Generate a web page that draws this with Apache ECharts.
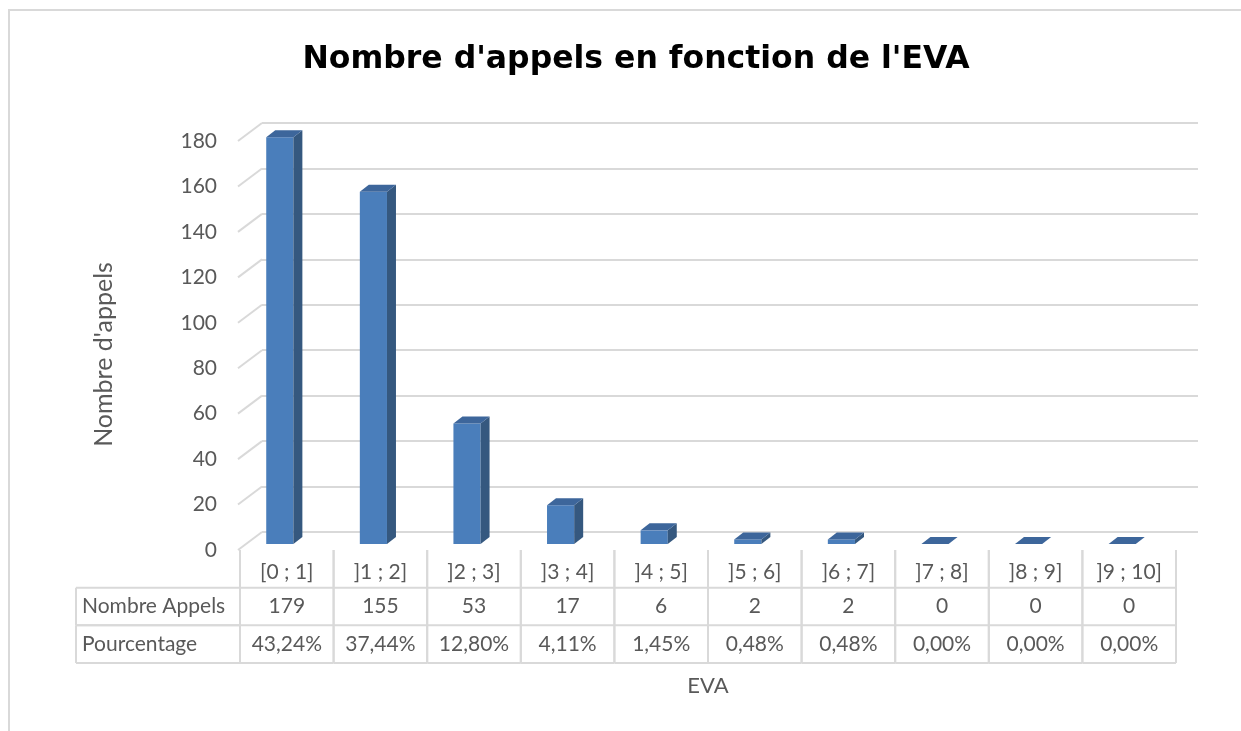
<!DOCTYPE html>
<html>
<head>
<meta charset="utf-8">
<script src="https://cdn.jsdelivr.net/npm/echarts@6/dist/echarts.min.js"></script>
<style>
  html, body { margin: 0; padding: 0; background: #fff; }
  #chart { width: 1241px; height: 731px; }
</style>
</head>
<body>
<div id="chart"></div>
<script>
// donnees
var categories = ['[0 ; 1]', ']1 ; 2]', ']2 ; 3]', ']3 ; 4]', ']4 ; 5]', ']5 ; 6]', ']6 ; 7]', ']7 ; 8]', ']8 ; 9]', ']9 ; 10]'];
var appels = [179, 155, 53, 17, 6, 2, 2, 0, 0, 0];
var pourcentages = ['43,24%', '37,44%', '12,80%', '4,11%', '1,45%', '0,48%', '0,48%', '0,00%', '0,00%', '0,00%'];
var rowNames = ['Nombre Appels', 'Pourcentage'];
var yTicks = [0, 20, 40, 60, 80, 100, 120, 140, 160, 180];

var FONT = 'Lato';
var TXT = '#595959';
var LINE = '#d9d9d9';
var FRONT = '#4a7ebb', SIDE = '#35587f', TOP = '#3d669b';

var chart = echarts.init(document.getElementById('chart'));

// barres 3D
function renderBar(params, api) {
    var i = api.value(0), v = api.value(1);
    var top = api.coord([i, v]);
    var base = api.coord([i, 0]);
    var w = api.size([1, 0])[0] * 0.29;
    var dx = 9, dy = -7;
    var x0 = top[0] - w / 2, x1 = top[0] + w / 2;
    var ch = [];
    if (base[1] - top[1] > 0.5) {
        ch.push({type: 'rect', shape: {x: x0, y: top[1], width: w, height: base[1] - top[1]}, style: {fill: FRONT}});
        ch.push({type: 'polygon', shape: {points: [[x1, top[1]], [x1 + dx, top[1] + dy], [x1 + dx, base[1] + dy], [x1, base[1]]]}, style: {fill: SIDE}});
    }
    ch.push({type: 'polygon', shape: {points: [[x0, top[1]], [x0 + dx, top[1] + dy], [x1 + dx, top[1] + dy], [x1, top[1]]]}, style: {fill: TOP}});
    return {type: 'group', children: ch};
}

// lignes du mur lateral
function renderSide(params, api) {
    var p = api.coord([0, api.value(0)]);
    return {type: 'line', shape: {x1: p[0], y1: p[1], x2: p[0] - 24, y2: p[1] + 18}, style: {stroke: LINE, lineWidth: 2}};
}

function txt(x, y, s, align) {
    return {type: 'text', style: {x: x, y: y, text: s, fill: TXT, font: '21px ' + FONT, align: align || 'center', verticalAlign: 'middle'}};
}
function ln(x1, y1, x2, y2) {
    return {type: 'line', shape: {x1: x1, y1: y1, x2: x2, y2: y2}, style: {stroke: LINE, lineWidth: 2}};
}

// tableau de donnees
function renderCell(params, api) {
    var i = api.value(0);
    var c = api.coord([i, 0]);
    var w = api.size([1, 0])[0];
    var l = c[0] - w / 2, r = c[0] + w / 2;
    var y = function (k) { return api.coord([i, k])[1]; };
    return {type: 'group', children: [
        ln(l, y(0), l, y(3)), ln(r, y(0), r, y(3)),
        ln(l, y(1), r, y(1)), ln(l, y(2), r, y(2)), ln(l, y(3), r, y(3)),
        txt(c[0], y(0.6), categories[i]),
        txt(c[0], y(1.5), String(appels[i])),
        txt(c[0], y(2.5), pourcentages[i])
    ]};
}
function renderHead(params, api) {
    var k = api.value(1);
    var c = api.coord([0, k]);
    var w = api.size([1, 0])[0];
    var l = c[0] - w / 2, r = c[0] + w / 2;
    var y0 = api.coord([0, k - 0.5])[1], y1 = api.coord([0, k + 0.5])[1];
    return {type: 'group', children: [
        ln(l, y0, l, y1), ln(l, y0, r, y0), ln(l, y1, r, y1),
        txt(l + 6, c[1], rowNames[k - 1.5], 'left')
    ]};
}

var option = {
    animation: false,
    backgroundColor: '#fff',
    title: {
        text: "Nombre d'appels en fonction de l'EVA",
        left: 631, top: 39, textAlign: 'center',
        textStyle: {fontFamily: 'DejaVu Sans', fontWeight: 'bold', fontSize: 31.5, color: '#000'}
    },
    graphic: [
        {type: 'rect', shape: {x: 9, y: 10, width: 1300, height: 800}, style: {fill: 'none', stroke: LINE, lineWidth: 2}, silent: true},
        {type: 'text', style: {x: 708, y: 686, text: 'EVA', fill: TXT, font: '22px ' + FONT, align: 'center', verticalAlign: 'middle'}, silent: true}
    ],
    grid: [
        {left: 262, top: 123, width: 936, height: 409},
        {left: 238, top: 141, width: 10, height: 409},
        {left: 233, top: 135, width: 936, height: 409},
        {left: 240, top: 550, width: 936, height: 113},
        {left: 76, top: 550, width: 164, height: 113}
    ],
    xAxis: [
        {gridIndex: 0, type: 'value', min: 0, max: 1, show: false},
        {gridIndex: 1, type: 'value', min: 0, max: 1, show: false},
        {gridIndex: 2, type: 'category', data: categories, show: false},
        {gridIndex: 3, type: 'category', data: categories, show: false},
        {gridIndex: 4, type: 'category', data: ['h'], show: false}
    ],
    yAxis: [
        {gridIndex: 0, type: 'value', min: 0, max: 180, interval: 20,
         axisLine: {show: false}, axisTick: {show: false}, axisLabel: {show: false},
         splitLine: {lineStyle: {color: LINE, width: 2}}},
        {gridIndex: 1, type: 'value', min: 0, max: 180, interval: 20,
         axisLine: {show: false}, axisTick: {show: false}, splitLine: {show: false},
         axisLabel: {color: TXT, fontFamily: FONT, fontSize: 21, margin: 21},
         name: "Nombre d'appels", nameLocation: 'middle', nameGap: 122, nameRotate: 90,
         nameTextStyle: {color: TXT, fontFamily: FONT, fontSize: 25, padding: [0, 18, 0, 0]}},
        {gridIndex: 2, type: 'value', min: 0, max: 180, show: false},
        {gridIndex: 3, type: 'value', min: 0, max: 3, inverse: true, show: false},
        {gridIndex: 4, type: 'value', min: 0, max: 3, inverse: true, show: false}
    ],
    series: [
        {type: 'custom', xAxisIndex: 0, yAxisIndex: 0, renderItem: renderSide,
         data: yTicks.map(function (t) { return [t]; }), encode: {y: 0}},
        {type: 'custom', xAxisIndex: 2, yAxisIndex: 2, renderItem: renderBar,
         data: appels.map(function (v, i) { return [i, v]; }), encode: {x: 0, y: 1}},
        {type: 'custom', xAxisIndex: 3, yAxisIndex: 3, renderItem: renderCell,
         data: categories.map(function (c, i) { return [i, 0]; }), encode: {x: 0, y: 1}},
        {type: 'custom', xAxisIndex: 4, yAxisIndex: 4, renderItem: renderHead,
         data: [[0, 1.5], [0, 2.5]], encode: {x: 0, y: 1}}
    ]
};
chart.setOption(option);
</script>
</body>
</html>
